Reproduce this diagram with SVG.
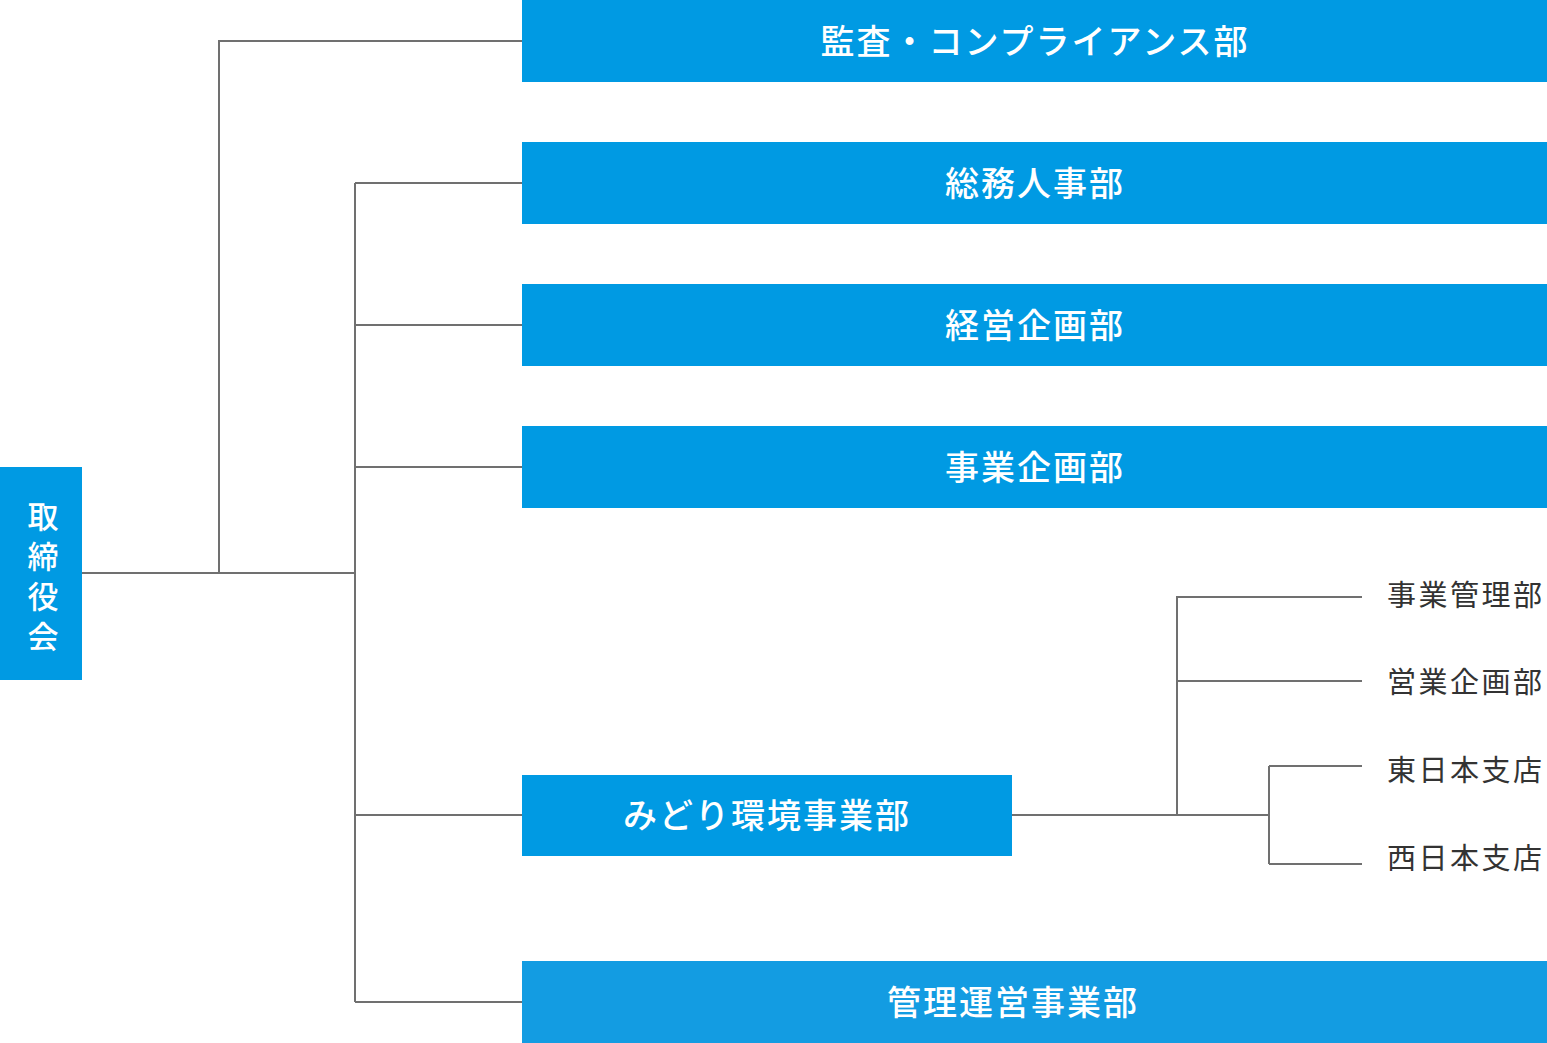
<svg xmlns="http://www.w3.org/2000/svg" width="1547" height="1043" viewBox="0 0 1547 1043">
<style>
.b{fill:#009ae3}
.t{fill:#fff;font-family:"Noto Sans CJK JP",sans-serif;font-size:34px;font-weight:500;letter-spacing:2px;text-anchor:middle;dominant-baseline:central}
.r{fill:#fff;font-family:"Noto Sans CJK JP",sans-serif;font-size:31px;font-weight:500;text-anchor:middle;dominant-baseline:central}
.s{fill:#333;font-family:"Noto Sans CJK JP",sans-serif;font-size:29px;letter-spacing:2.5px;dominant-baseline:central}
.c{stroke:#707070;stroke-width:2;fill:none}
</style>
<rect width="1547" height="1043" fill="#fff"/>
<g id="connectors" class="c">
<path d="M82 573H355M219 573V41H522M355 183V1002M355 183H522M355 325H522M355 467H522M355 815H522M355 1002H522"/>
<path d="M1012 815H1269M1177 815V597H1362M1177 681H1362M1269 766V864M1269 766H1362M1269 864H1362"/>
</g>
<g id="root"><rect class="b" x="0" y="467" width="82" height="213"/>
<text class="r" x="43" y="514">取</text><text class="r" x="43" y="554">締</text><text class="r" x="43" y="594">役</text><text class="r" x="43" y="634">会</text></g>
<g id="n1"><rect class="b" x="522" y="0" width="1025" height="82"/><text class="t" x="1035" y="39">監査・コンプライアンス部</text></g>
<g id="n2"><rect class="b" x="522" y="142" width="1025" height="82"/><text class="t" x="1035" y="181">総務人事部</text></g>
<g id="n3"><rect class="b" x="522" y="284" width="1025" height="82"/><text class="t" x="1035" y="323">経営企画部</text></g>
<g id="n4"><rect class="b" x="522" y="426" width="1025" height="82"/><text class="t" x="1035" y="465">事業企画部</text></g>
<g id="n5"><rect class="b" x="522" y="775" width="490" height="81"/><text class="t" x="767" y="813">みどり環境事業部</text></g>
<g id="n6"><rect x="522" y="961" width="1025" height="82" fill="#139ce2"/><text class="t" x="1013" y="1000">管理運営事業部</text></g>
<g id="s1"><text class="s" x="1387" y="593">事業管理部</text></g>
<g id="s2"><text class="s" x="1387" y="680">営業企画部</text></g>
<g id="s3"><text class="s" x="1387" y="768">東日本支店</text></g>
<g id="s4"><text class="s" x="1387" y="856">西日本支店</text></g>
</svg>
